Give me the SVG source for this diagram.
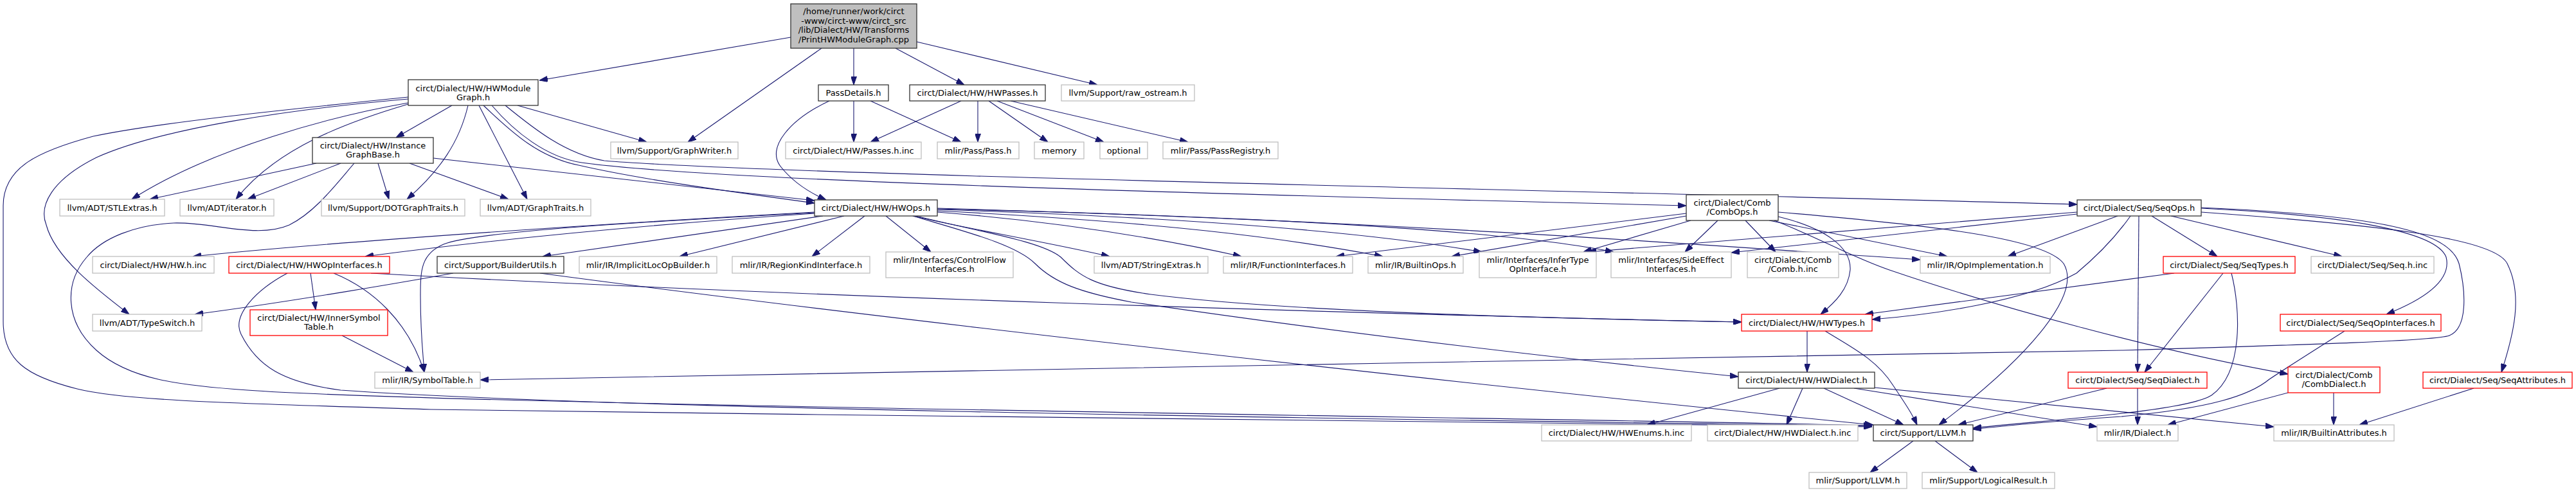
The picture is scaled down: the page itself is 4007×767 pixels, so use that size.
<svg xmlns="http://www.w3.org/2000/svg" width="4007" height="767" viewBox="0 0 4007 767">
<defs>
<style>
.e{fill:none;stroke:#191970;stroke-width:1.1}
rect{fill:#fff;stroke-width:1.3}
rect.n{stroke:#333}
rect.g{stroke:#bfbfbf}
rect.r{stroke:#ff0000}
rect.t{fill:#bfbfbf;stroke:#333}
text{font-family:"DejaVu Sans","Liberation Sans",sans-serif;font-size:13px;text-anchor:middle;fill:#000}
</style>
<marker id="arr" viewBox="0 0 13 9" refX="13" refY="4.5" markerWidth="13" markerHeight="9" markerUnits="userSpaceOnUse" orient="auto"><path d="M0,0 L13,4.5 L0,9 Z" fill="#191970" stroke="#191970" stroke-width="1"/></marker>
</defs>
<rect x="0" y="0" width="4007" height="767" style="fill:#fff;stroke:none"/>
<g id="edges" marker-end="url(#arr)">
<path class="e" marker-end="url(#arr)" d="M1230,58 L839,125"/>
<path class="e" marker-end="url(#arr)" d="M1278,75 L1070,221"/>
<path class="e" marker-end="url(#arr)" d="M1328,75 L1328,132"/>
<path class="e" marker-end="url(#arr)" d="M1393,75 L1500,132"/>
<path class="e" marker-end="url(#arr)" d="M1426,65 L1707,132"/>
<path class="e" marker-end="url(#arr)" d="M703,164 L616,214"/>
<path class="e" marker-end="url(#arr)" d="M635,160 C520,180 330,230 205,310"/>
<path class="e" marker-end="url(#arr)" d="M635,162 C540,190 430,230 367,310"/>
<path class="e" marker-end="url(#arr)" d="M635,154 C450,170 250,200 150,245 C80,280 60,320 72,350 C85,400 150,450 201,489"/>
<path class="e" marker-end="url(#arr)" d="M635,151 C450,170 250,190 145,212 C60,235 5,260 5,320 L5,500 C5,560 40,585 120,605 C200,625 400,628 670,637 C1500,650 2500,655 2912,664"/>
<path class="e" marker-end="url(#arr)" d="M728,164 C715,220 685,265 633,310"/>
<path class="e" marker-end="url(#arr)" d="M745,164 L820,310"/>
<path class="e" marker-end="url(#arr)" d="M752,164 C800,210 840,245 900,257 C1000,280 1150,300 1267,316"/>
<path class="e" marker-end="url(#arr)" d="M805,164 L1006,221"/>
<path class="e" marker-end="url(#arr)" d="M765,164 C800,205 850,245 905,253 C1100,280 1800,300 2623,320"/>
<path class="e" marker-end="url(#arr)" d="M786,164 C830,200 880,240 940,250 C1200,272 2400,295 3231,318"/>
<path class="e" marker-end="url(#arr)" d="M492,254 L233,310"/>
<path class="e" marker-end="url(#arr)" d="M530,254 L385,310"/>
<path class="e" marker-end="url(#arr)" d="M588,254 L605,310"/>
<path class="e" marker-end="url(#arr)" d="M637,254 L791,310"/>
<path class="e" marker-end="url(#arr)" d="M674,246 L1267,312"/>
<path class="e" marker-end="url(#arr)" d="M551,254 C520,290 490,330 450,350 C400,372 330,345 270,347 C210,350 160,370 135,400 C100,440 100,500 150,545 C200,590 280,600 385,607 C700,630 2400,650 2912,662"/>
<path class="e" marker-end="url(#arr)" d="M483,425 L491,482"/>
<path class="e" marker-end="url(#arr)" d="M519,425 C580,450 635,500 660,579"/>
<path class="e" marker-end="url(#arr)" d="M447,425 C400,450 360,490 375,520 C400,570 440,595 530,607 C1000,640 2400,655 2912,663"/>
<path class="e" marker-end="url(#arr)" d="M577,425 C1200,460 2100,488 2709,501"/>
<path class="e" marker-end="url(#arr)" d="M532,522 L643,579"/>
<path class="e" marker-end="url(#arr)" d="M1267,330 C900,350 500,378 300,399"/>
<path class="e" marker-end="url(#arr)" d="M1267,332 C1000,350 750,375 568,399"/>
<path class="e" marker-end="url(#arr)" d="M1267,331 C1000,345 740,360 690,380 C655,395 654,420 654,460 C654,520 658,550 660,579"/>
<path class="e" marker-end="url(#arr)" d="M1280,336 L844,399"/>
<path class="e" marker-end="url(#arr)" d="M1313,336 L1057,399"/>
<path class="e" marker-end="url(#arr)" d="M1345,336 L1263,399"/>
<path class="e" marker-end="url(#arr)" d="M1378,336 L1448,392"/>
<path class="e" marker-end="url(#arr)" d="M1420,336 C1500,355 1620,375 1726,399"/>
<path class="e" marker-end="url(#arr)" d="M1458,330 C1650,345 1800,370 1931,399"/>
<path class="e" marker-end="url(#arr)" d="M1458,328 C1800,345 2000,370 2151,399"/>
<path class="e" marker-end="url(#arr)" d="M1458,326 C1900,340 2150,365 2305,392"/>
<path class="e" marker-end="url(#arr)" d="M1458,325 C2000,338 2350,360 2510,392"/>
<path class="e" marker-end="url(#arr)" d="M1458,324 C2200,345 2700,385 2987,404"/>
<path class="e" marker-end="url(#arr)" d="M1425,336 C1520,360 1620,375 1650,400 C1680,430 1700,445 1790,458 C2000,485 2400,495 2709,501"/>
<path class="e" marker-end="url(#arr)" d="M1420,336 C1500,360 1580,380 1610,410 C1640,440 1680,455 1760,470 C2100,520 2450,560 2704,586"/>
<path class="e" marker-end="url(#arr)" d="M705,425 C650,435 450,470 303,489"/>
<path class="e" marker-end="url(#arr)" d="M840,425 C1400,500 2300,600 2914,661"/>
<path class="e" marker-end="url(#arr)" d="M2623,332 L2078,399"/>
<path class="e" marker-end="url(#arr)" d="M2623,336 L2258,399"/>
<path class="e" marker-end="url(#arr)" d="M2630,343 L2463,392"/>
<path class="e" marker-end="url(#arr)" d="M2672,343 L2621,392"/>
<path class="e" marker-end="url(#arr)" d="M2715,343 L2762,392"/>
<path class="e" marker-end="url(#arr)" d="M2766,337 C2840,355 2880,385 2878,420 C2875,450 2855,470 2832,489"/>
<path class="e" marker-end="url(#arr)" d="M2760,343 C2830,370 2880,400 2939,420 C3100,475 3350,545 3559,582"/>
<path class="e" marker-end="url(#arr)" d="M2752,343 L3029,399"/>
<path class="e" marker-end="url(#arr)" d="M2766,330 C3000,350 3180,370 3210,410 C3240,460 3150,560 3016,661"/>
<path class="e" marker-end="url(#arr)" d="M3231,330 L2470,392"/>
<path class="e" marker-end="url(#arr)" d="M3231,333 L2693,393"/>
<path class="e" marker-end="url(#arr)" d="M3294,336 L3123,399"/>
<path class="e" marker-end="url(#arr)" d="M3314,336 C3290,370 3260,400 3230,425 C3150,470 3000,490 2912,497"/>
<path class="e" marker-end="url(#arr)" d="M3424,323 C3700,335 3810,360 3825,410 C3835,450 3840,510 3810,522 C3790,530 3600,536 3300,545 C2500,560 1500,575 747,591"/>
<path class="e" marker-end="url(#arr)" d="M3424,324 C3650,335 3790,360 3805,400 C3815,440 3760,470 3712,489"/>
<path class="e" marker-end="url(#arr)" d="M3424,330 C3700,350 3880,370 3900,410 C3925,460 3910,520 3891,579"/>
<path class="e" marker-end="url(#arr)" d="M3347,336 L3449,399"/>
<path class="e" marker-end="url(#arr)" d="M3377,336 L3643,399"/>
<path class="e" marker-end="url(#arr)" d="M3327,336 L3325,579"/>
<path class="e" marker-end="url(#arr)" d="M3382,425 L2901,489"/>
<path class="e" marker-end="url(#arr)" d="M3458,425 L3336,579"/>
<path class="e" marker-end="url(#arr)" d="M3471,425 C3485,480 3490,580 3440,615 C3400,640 3200,652 3069,666"/>
<path class="e" marker-end="url(#arr)" d="M3647,515 C3600,545 3560,570 3530,590 C3500,615 3440,635 3300,648 C3200,655 3120,662 3069,668"/>
<path class="e" marker-end="url(#arr)" d="M2811,515 L2811,579"/>
<path class="e" marker-end="url(#arr)" d="M2839,515 C2880,540 2920,560 2945,600 C2965,630 2975,645 2982,661"/>
<path class="e" marker-end="url(#arr)" d="M2768,604 L2562,661"/>
<path class="e" marker-end="url(#arr)" d="M2804,604 L2779,661"/>
<path class="e" marker-end="url(#arr)" d="M2837,604 L2961,661"/>
<path class="e" marker-end="url(#arr)" d="M2884,604 L3262,664"/>
<path class="e" marker-end="url(#arr)" d="M2916,603 L3537,664"/>
<path class="e" marker-end="url(#arr)" d="M3277,604 L3046,661"/>
<path class="e" marker-end="url(#arr)" d="M3325,604 L3325,661"/>
<path class="e" marker-end="url(#arr)" d="M3559,611 L3372,661"/>
<path class="e" marker-end="url(#arr)" d="M3630,611 L3630,661"/>
<path class="e" marker-end="url(#arr)" d="M3848,604 L3670,661"/>
<path class="e" marker-end="url(#arr)" d="M2976,686 L2909,735"/>
<path class="e" marker-end="url(#arr)" d="M3010,686 L3076,735"/>
<path class="e" marker-end="url(#arr)" d="M1328,157 L1328,221"/>
<path class="e" marker-end="url(#arr)" d="M1354,157 L1495,221"/>
<path class="e" marker-end="url(#arr)" d="M1290,157 C1230,185 1190,230 1215,260 C1235,285 1260,300 1285,311"/>
<path class="e" marker-end="url(#arr)" d="M1495,157 L1354,221"/>
<path class="e" marker-end="url(#arr)" d="M1521,157 L1521,221"/>
<path class="e" marker-end="url(#arr)" d="M1538,157 L1630,221"/>
<path class="e" marker-end="url(#arr)" d="M1551,157 L1717,221"/>
<path class="e" marker-end="url(#arr)" d="M1572,157 L1848,221"/>
</g>
<g id="n-title"><rect class="t" x="1230" y="6" width="196" height="69"/><text x="1328" y="22">/home/runner/work/circt</text><text x="1328" y="36.5">-www/circt-www/circt_src</text><text x="1328" y="51">/lib/Dialect/HW/Transforms</text><text x="1328" y="65.5">/PrintHWModuleGraph.cpp</text></g>
<g id="n-hwmodulegraph"><rect class="n" x="635" y="124" width="202" height="40"/><text x="736" y="141.5">circt/Dialect/HW/HWModule</text><text x="736" y="155.5">Graph.h</text></g>
<g id="n-passdetails"><rect class="n" x="1273" y="132" width="109" height="25"/><text x="1327.5" y="149">PassDetails.h</text></g>
<g id="n-hwpasses"><rect class="n" x="1415" y="132" width="211" height="25"/><text x="1520.5" y="149">circt/Dialect/HW/HWPasses.h</text></g>
<g id="n-rawostream"><rect class="g" x="1651" y="132" width="207" height="25"/><text x="1754.5" y="149">llvm/Support/raw_ostream.h</text></g>
<g id="n-instancegraphbase"><rect class="n" x="486" y="214" width="188" height="40"/><text x="580" y="231">circt/Dialect/HW/Instance</text><text x="580" y="245">GraphBase.h</text></g>
<g id="n-graphwriter"><rect class="g" x="950" y="221" width="198" height="26"/><text x="1049" y="238.5">llvm/Support/GraphWriter.h</text></g>
<g id="n-passesinc"><rect class="g" x="1222" y="221" width="211" height="26"/><text x="1327.5" y="238.5">circt/Dialect/HW/Passes.h.inc</text></g>
<g id="n-pass"><rect class="g" x="1458" y="221" width="127" height="26"/><text x="1521.5" y="238.5">mlir/Pass/Pass.h</text></g>
<g id="n-memory"><rect class="g" x="1609" y="221" width="77" height="26"/><text x="1647.5" y="238.5">memory</text></g>
<g id="n-optional"><rect class="g" x="1711" y="221" width="74" height="26"/><text x="1748" y="238.5">optional</text></g>
<g id="n-passregistry"><rect class="g" x="1809" y="221" width="179" height="26"/><text x="1898.5" y="238.5">mlir/Pass/PassRegistry.h</text></g>
<g id="n-stlextras"><rect class="g" x="93" y="310" width="163" height="26"/><text x="174.5" y="327.5">llvm/ADT/STLExtras.h</text></g>
<g id="n-iterator"><rect class="g" x="280" y="310" width="146" height="26"/><text x="353" y="327.5">llvm/ADT/iterator.h</text></g>
<g id="n-dotgraphtraits"><rect class="g" x="500" y="310" width="223" height="26"/><text x="611.5" y="327.5">llvm/Support/DOTGraphTraits.h</text></g>
<g id="n-graphtraits"><rect class="g" x="747" y="310" width="172" height="26"/><text x="833" y="327.5">llvm/ADT/GraphTraits.h</text></g>
<g id="n-hwops"><rect class="n" x="1267" y="311" width="191" height="25"/><text x="1362.5" y="328">circt/Dialect/HW/HWOps.h</text></g>
<g id="n-combops"><rect class="n" x="2623" y="303" width="143" height="40"/><text x="2694.5" y="320">circt/Dialect/Comb</text><text x="2694.5" y="334">/CombOps.h</text></g>
<g id="n-seqops"><rect class="n" x="3231" y="311" width="193" height="25"/><text x="3327.5" y="328">circt/Dialect/Seq/SeqOps.h</text></g>
<g id="n-hwinc"><rect class="g" x="144" y="399" width="189" height="26"/><text x="238.5" y="416.5">circt/Dialect/HW/HW.h.inc</text></g>
<g id="n-hwopinterfaces"><rect class="r" x="356" y="399" width="250" height="26"/><text x="481" y="416.5">circt/Dialect/HW/HWOpInterfaces.h</text></g>
<g id="n-builderutils"><rect class="n" x="680" y="399" width="197" height="26"/><text x="778.5" y="416.5">circt/Support/BuilderUtils.h</text></g>
<g id="n-implicitloc"><rect class="g" x="901" y="399" width="214" height="26"/><text x="1008" y="416.5">mlir/IR/ImplicitLocOpBuilder.h</text></g>
<g id="n-regionkind"><rect class="g" x="1139" y="399" width="214" height="26"/><text x="1246" y="416.5">mlir/IR/RegionKindInterface.h</text></g>
<g id="n-controlflow"><rect class="g" x="1378" y="392" width="198" height="40"/><text x="1477" y="409">mlir/Interfaces/ControlFlow</text><text x="1477" y="423">Interfaces.h</text></g>
<g id="n-stringextras"><rect class="g" x="1702" y="399" width="177" height="26"/><text x="1790.5" y="416.5">llvm/ADT/StringExtras.h</text></g>
<g id="n-functioninterfaces"><rect class="g" x="1903" y="399" width="201" height="26"/><text x="2003.5" y="416.5">mlir/IR/FunctionInterfaces.h</text></g>
<g id="n-builtinops"><rect class="g" x="2128" y="399" width="148" height="26"/><text x="2202" y="416.5">mlir/IR/BuiltinOps.h</text></g>
<g id="n-infertype"><rect class="g" x="2301" y="392" width="182" height="40"/><text x="2392" y="409">mlir/Interfaces/InferType</text><text x="2392" y="423">OpInterface.h</text></g>
<g id="n-sideeffect"><rect class="g" x="2506" y="392" width="187" height="40"/><text x="2599.5" y="409">mlir/Interfaces/SideEffect</text><text x="2599.5" y="423">Interfaces.h</text></g>
<g id="n-combinc"><rect class="g" x="2718" y="392" width="142" height="40"/><text x="2789" y="409">circt/Dialect/Comb</text><text x="2789" y="423">/Comb.h.inc</text></g>
<g id="n-opimpl"><rect class="g" x="2987" y="399" width="202" height="26"/><text x="3088" y="416.5">mlir/IR/OpImplementation.h</text></g>
<g id="n-seqtypes"><rect class="r" x="3365" y="399" width="205" height="26"/><text x="3467.5" y="416.5">circt/Dialect/Seq/SeqTypes.h</text></g>
<g id="n-seqinc"><rect class="g" x="3595" y="399" width="191" height="26"/><text x="3690.5" y="416.5">circt/Dialect/Seq/Seq.h.inc</text></g>
<g id="n-typeswitch"><rect class="g" x="144" y="489" width="170" height="26"/><text x="229" y="506.5">llvm/ADT/TypeSwitch.h</text></g>
<g id="n-innersymbol"><rect class="r" x="389" y="482" width="214" height="40"/><text x="496" y="499">circt/Dialect/HW/InnerSymbol</text><text x="496" y="513">Table.h</text></g>
<g id="n-hwtypes"><rect class="r" x="2709" y="489" width="203" height="26"/><text x="2810.5" y="506.5">circt/Dialect/HW/HWTypes.h</text></g>
<g id="n-seqopinterfaces"><rect class="r" x="3547" y="489" width="250" height="26"/><text x="3672" y="506.5">circt/Dialect/Seq/SeqOpInterfaces.h</text></g>
<g id="n-symboltable"><rect class="g" x="583" y="579" width="164" height="25"/><text x="665" y="596">mlir/IR/SymbolTable.h</text></g>
<g id="n-hwdialect"><rect class="n" x="2704" y="579" width="212" height="25"/><text x="2810" y="596">circt/Dialect/HW/HWDialect.h</text></g>
<g id="n-seqdialect"><rect class="r" x="3217" y="579" width="216" height="25"/><text x="3325" y="596">circt/Dialect/Seq/SeqDialect.h</text></g>
<g id="n-combdialect"><rect class="r" x="3559" y="571" width="143" height="40"/><text x="3630.5" y="588">circt/Dialect/Comb</text><text x="3630.5" y="602">/CombDialect.h</text></g>
<g id="n-seqattributes"><rect class="r" x="3769" y="579" width="232" height="25"/><text x="3885" y="596">circt/Dialect/Seq/SeqAttributes.h</text></g>
<g id="n-hwenums"><rect class="g" x="2398" y="661" width="233" height="25"/><text x="2514.5" y="678">circt/Dialect/HW/HWEnums.h.inc</text></g>
<g id="n-hwdialectinc"><rect class="g" x="2656" y="661" width="234" height="25"/><text x="2773" y="678">circt/Dialect/HW/HWDialect.h.inc</text></g>
<g id="n-supportllvm"><rect class="n" x="2914" y="661" width="155" height="25"/><text x="2991.5" y="678">circt/Support/LLVM.h</text></g>
<g id="n-dialect"><rect class="g" x="3262" y="661" width="126" height="25"/><text x="3325" y="678">mlir/IR/Dialect.h</text></g>
<g id="n-builtinattributes"><rect class="g" x="3537" y="661" width="187" height="25"/><text x="3630.5" y="678">mlir/IR/BuiltinAttributes.h</text></g>
<g id="n-mlirllvm"><rect class="g" x="2814" y="735" width="152" height="25"/><text x="2890" y="752">mlir/Support/LLVM.h</text></g>
<g id="n-logicalresult"><rect class="g" x="2990" y="735" width="206" height="25"/><text x="3093" y="752">mlir/Support/LogicalResult.h</text></g>
</svg>
